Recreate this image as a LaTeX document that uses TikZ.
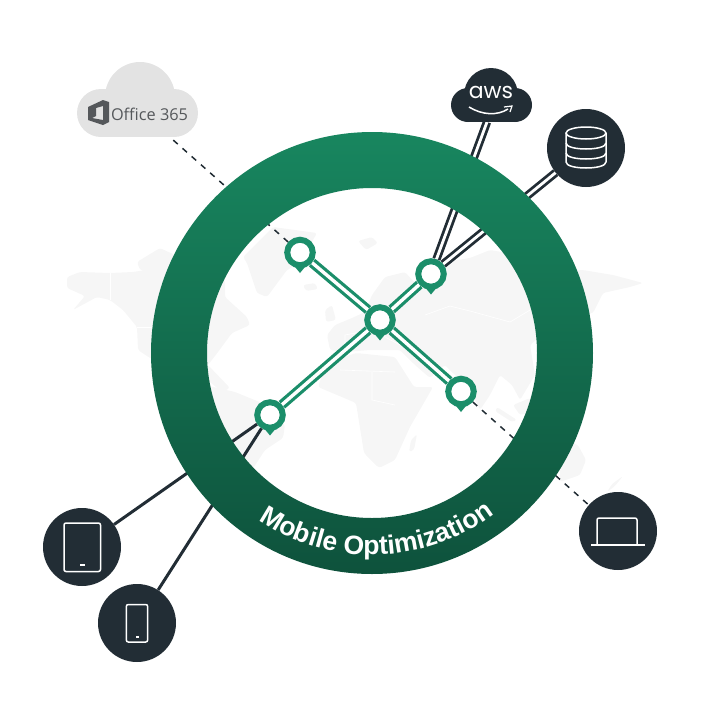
\documentclass[tikz,border=0pt]{standalone}
\usepackage{fontspec}
\setmainfont{Liberation Sans}
\newfontfamily\officefont{Open Sans}
\newfontfamily\awsfont{Poppins}
\usetikzlibrary{backgrounds,decorations.text}
\definecolor{pingreen}{HTML}{1B8E6A}
\definecolor{ringtop}{HTML}{18865F}
\definecolor{ringbot}{HTML}{0E523C}
\definecolor{slate}{HTML}{222D35}
\definecolor{landgray}{HTML}{F6F6F6}
\definecolor{cloudgray}{HTML}{E3E3E3}
\definecolor{officegray}{HTML}{55585B}
\tikzset{
  pinnode/.style={circle,draw=pingreen,fill=white,line width=6pt,minimum size=25.5pt,inner sep=0pt},
  pintail/.style={fill=pingreen},
  devnode/.style={circle,fill=slate,minimum size=78pt,inner sep=0pt},
  icon/.style={draw=white,line width=1.5pt,rounded corners=2pt},
  greenlink/.style={draw=pingreen,line width=3.2pt,double=white,double distance=3.4pt},
  darkdouble/.style={draw=slate,line width=2.8pt,double=white,double distance=2.8pt},
  darkline/.style={draw=slate,line width=3pt},
  dashlink/.style={draw=slate,line width=1.5pt,dash pattern=on 6pt off 6.3pt},
  land/.style={fill=landgray,rounded corners=2.5pt},
  border/.style={draw=white,line width=.6pt}
}
\newcommand{\pinat}[3]{%
  \fill[pintail] (#2-7,#3+12) -- (#2,#3+20.5) -- (#2+7,#3+12) -- cycle;
  \node[pinnode] (#1) at (#2,#3) {};}
\begin{document}
\begin{tikzpicture}[x=1pt,y=-1pt]
\useasboundingbox (0,0) rectangle (712,713);
% clouds
\fill[cloudgray] (140,97) circle (35);
\fill[cloudgray] (101,113) circle (24);
\fill[cloudgray] (174,113) circle (24);
\fill[cloudgray] (101,89) rectangle (174,137);
\fill[slate] (491,95) circle (27);
\fill[slate] (468,105) circle (17);
\fill[slate] (515,105) circle (17);
\fill[slate] (468,100) rectangle (515,122);
\coordinate (officeend) at (172,139);
\coordinate (awsend) at (487,122);
\node[text=officegray,font=\officefont\fontsize{16.3}{16.3}\selectfont,inner sep=0pt] (officetext) at (149.5,114) {Office 365};
\fill[officegray,even odd rule] (88,107) -- (103,100) -- (109,102) -- (109,122) -- (103,125) -- (88,120) -- cycle
  (96,108) -- (103,106) -- (103,120) -- (92,118) -- (96,116) -- cycle;
\node[text=white,font=\awsfont\fontsize{22}{22}\selectfont,inner sep=0pt] (awstext) at (491,92) {aws};
\draw[white,line width=1.5pt] (469,107) .. controls (482,115) and (497,116) .. (508,109);
\draw[white,line width=1.2pt] (504,107) -- (512,106) -- (510,112);
% devices
\node[devnode] (db) at (586,148) {};
\node[devnode] (tablet) at (82,547) {};
\node[devnode] (phone) at (137,623) {};
\node[devnode] (laptop) at (618,531) {};
\draw[white,line width=1.5pt] (586,133) ellipse (20 and 6);
\draw[white,line width=1.5pt] (566,133) -- (566,162) .. controls (566,170) and (606,170) .. (606,162) -- (606,133);
\draw[white,line width=1.5pt] (566,143) .. controls (566,151) and (606,151) .. (606,143);
\draw[white,line width=1.5pt] (566,153) .. controls (566,161) and (606,161) .. (606,153);
\draw[icon] (64,523) rectangle (100.5,571.5);
\fill[white] (79.7,564) rectangle (84.9,566);
\draw[icon] (126.3,604.5) rectangle (147.7,642);
\fill[white] (135.5,635.7) rectangle (138.5,637.7);
\draw[icon] (597,545) -- (597,518) -- (637,518) -- (637,545);
\draw[white,line width=1.4pt] (591,545) -- (644.5,545);
% pins
\pinat{pa}{300}{252.5}
\pinat{pb}{431}{274}
\pinat{pc}{380}{320}
\pinat{pd}{461}{391.5}
\pinat{pe}{270}{415}
\begin{pgfonlayer}{background}
% map
\fill[land] (67,277) -- (80,272) -- (110,273) -- (133,272) -- (145,270) -- (165,265) -- (225,280) -- (225,297) -- (247,317) -- (250,325) -- (232,333) -- (218,352) -- (208,365) -- (170,365) -- (150,358) -- (138,350) -- (137,327) -- (123,310) -- (110,300) -- (97,297) -- (73,310) -- (85,296) -- (67,288) -- cycle;
\fill[land] (137,262) -- (160,248) -- (175,255) -- (165,275) -- (140,270) -- cycle;
\fill[land] (243,257) -- (273,227) -- (317,233) -- (300,263) -- (287,270) -- (267,297) -- (257,293) -- (247,263) -- cycle;
\fill[land] (208,365) -- (230,388) -- (222,392) -- (205,378) -- cycle;
\fill[land] (205,385) -- (235,392) -- (262,403) -- (285,425) -- (283,438) -- (265,450) -- (252,470) -- (235,490) -- (205,440) -- cycle;
\fill[land] (327,335) -- (335,325) -- (352,318) -- (365,312) -- (372,295) -- (385,277) -- (405,272) -- (415,283) -- (425,275) -- (445,262) -- (470,258) -- (490,250) -- (520,255) -- (545,270) -- (560,290) -- (545,300) -- (548,330) -- (530,345) -- (535,375) -- (520,400) -- (512,385) -- (500,375) -- (490,395) -- (480,410) -- (468,385) -- (455,375) -- (445,365) -- (430,378) -- (415,365) -- (400,350) -- (370,350) -- (345,352) -- (330,350) -- cycle;
\fill[land] (318,387) -- (326,363) -- (356,353) -- (395,357) -- (414,387) -- (433,387) -- (410,427) -- (395,460) -- (379,468) -- (364,453) -- (356,403) -- cycle;
\fill[land] (417,434) -- (414,450) -- (409,452) -- (411,440) -- cycle;
\fill[land] (325,310) -- (332,305) -- (336,320) -- (326,322) -- cycle;
\fill[land] (303,285) -- (315,283) -- (318,289) -- (306,291) -- cycle;
\fill[land] (358,241) -- (372,237) -- (378,243) -- (366,250) -- cycle;
\fill[land] (497,407) -- (517,420) -- (512,422) -- (495,411) -- cycle;
\fill[land] (513,405) -- (530,398) -- (534,412) -- (520,415) -- cycle;
\fill[land] (560,272) -- (583,270) -- (613,275) -- (643,283) -- (630,287) -- (603,293) -- (593,313) -- (560,320) -- cycle;
\fill[land] (560,438) -- (578,445) -- (586,460) -- (580,475) -- (560,482) -- cycle;
\fill[land] (623,476) -- (615,486) -- (607,492) -- (612,484) -- cycle;
\draw[border] (425,315) -- (450,306) -- (470,311) -- (510,322) -- (530,310);
\draw[border] (340,370) -- (395,372) (372,372) -- (372,400) -- (395,405);
\draw[border] (345,352) -- (345,335) -- (372,330) -- (400,345);
\draw[border] (110,273) -- (110,300) (137,327) -- (208,327);
% connectors under the ring
\draw[dashlink] (pa) -- (officeend);
\draw[dashlink] (pd) -- (laptop);
\draw[darkdouble] (pb) -- (awsend);
\draw[darkdouble] (pb) -- (db);
\draw[darkline] (pe) -- (tablet);
\draw[darkline] (pe) -- (phone);
% ring
\coordinate (ringc) at (372,353);
\shade[top color=ringtop,bottom color=ringbot,even odd rule] (ringc) circle (221) (ringc) circle (165);
\path[decorate,decoration={text along path,text align=center,
  text={|\bfseries\fontsize{26.5}{26.5}\selectfont\color{white}|Mobile  Optimization}}]
  (ringc) ++(229:202pt) arc[start angle=229,end angle=314,radius=202pt];
% green links
\draw[greenlink] (pa) -- (pc);
\draw[greenlink] (pb) -- (pc);
\draw[greenlink] (pd) -- (pc);
\draw[greenlink] (pe) -- (pc);
\end{pgfonlayer}
\end{tikzpicture}
\end{document}
